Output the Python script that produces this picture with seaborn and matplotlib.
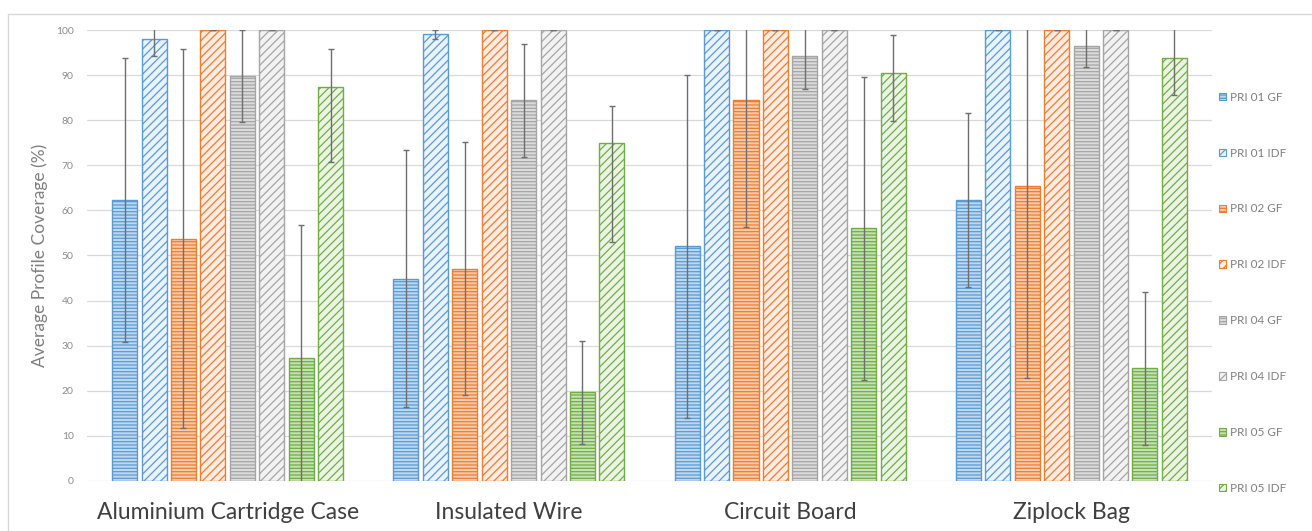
import numpy as np
import pandas as pd
import matplotlib
matplotlib.use('Agg')
import matplotlib.pyplot as plt
import seaborn as sns
from matplotlib.patches import Patch
from matplotlib.lines import Line2D

# 数据
categories = ['Aluminium Cartridge Case', 'Insulated Wire', 'Circuit Board', 'Ziplock Bag']
series = ['PRI 01 GF', 'PRI 01 IDF', 'PRI 02 GF', 'PRI 02 IDF',
          'PRI 04 GF', 'PRI 04 IDF', 'PRI 05 GF', 'PRI 05 IDF']

pri01_gf = [62.3, 44.8, 52.0, 62.4]
pri01_idf = [98.0, 99.1, 100.0, 100.0]
pri02_gf = [53.7, 47.1, 84.4, 65.3]
pri02_idf = [100.0, 100.0, 100.0, 100.0]
pri04_gf = [89.8, 84.4, 94.3, 96.4]
pri04_idf = [100.0, 100.0, 100.0, 100.0]
pri05_gf = [27.2, 19.7, 56.0, 25.0]
pri05_idf = [87.3, 74.9, 90.5, 93.9]

# 误差（下 / 上）
err01_gf = [31.4, 28.5, 38.0, 19.3]
err01_idf = [3.7, 1.0, 0.0, 0.0]
err02_gf = [42.0, 28.0, 28.0, 42.5]
err02_idf = [0.0, 0.0, 0.0, 0.0]
err04_gf = [10.2, 12.5, 7.4, 4.7]
err04_idf = [0.0, 0.0, 0.0, 0.0]
err05_gf = [29.5, 11.4, 33.6, 17.0]
err05_idf_lo = [16.6, 21.8, 10.7, 8.4]
err05_idf_hi = [8.4, 8.3, 8.5, 8.4]

values = [pri01_gf, pri01_idf, pri02_gf, pri02_idf, pri04_gf, pri04_idf, pri05_gf, pri05_idf]
err_lo = [err01_gf, err01_idf, err02_gf, err02_idf, err04_gf, err04_idf, err05_gf, err05_idf_lo]
err_hi = [err01_gf, err01_idf, err02_gf, err02_idf, err04_gf, err04_idf, err05_gf, err05_idf_hi]

rows = []
for s, vals in zip(series, values):
    for c, v in zip(categories, vals):
        rows.append({'category': c, 'series': s, 'value': v})
df = pd.DataFrame(rows)

# 颜色
edge_cols = ['#5B9BD5', '#5B9BD5', '#ED7D31', '#ED7D31', '#A5A5A5', '#A5A5A5', '#70AD47', '#70AD47']
fill_cols = ['#BDD7EE', '#EAF2FA', '#F8CBAD', '#FCEBE0', '#DBDBDB', '#F2F2F2', '#C5E0B4', '#EBF4E4']
hatches = ['-----', '////', '-----', '////', '-----', '////', '-----', '////']

sns.set_style('white')
plt.rcParams['font.family'] = ['Lato', 'DejaVu Sans']
plt.rcParams['hatch.linewidth'] = 0.9

fig = plt.figure(figsize=(13.12, 5.31), dpi=100)
ax = fig.add_axes([0.0663, 0.0942, 0.9238 - 0.0663, 0.9435 - 0.0942])

sns.barplot(data=df, x='category', y='value', hue='series', hue_order=series,
            order=categories, palette=fill_cols, width=0.837, gap=0.15,
            errorbar=None, legend=False, ax=ax)

bar_conts = list(ax.containers)
for i, cont in enumerate(bar_conts):
    xs = []
    for p in cont.patches:
        p.set_facecolor(fill_cols[i])
        p.set_edgecolor(edge_cols[i])
        p.set_hatch(hatches[i])
        p.set_linewidth(1.0)
        xs.append(p.get_x() + p.get_width() / 2)
    ax.errorbar(xs, values[i], yerr=[err_lo[i], err_hi[i]], fmt='none',
                ecolor='#6E6E6E', elinewidth=1.0, capsize=2.5, capthick=1.0, zorder=5)

ax.set_ylim(0, 100)
ax.set_xlim(-0.5, 3.5)
ax.set_yticks(np.arange(0, 101, 10))
ax.yaxis.grid(True, color='#D9D9D9', linewidth=0.9)
ax.set_axisbelow(True)
for sp in ax.spines.values():
    sp.set_visible(False)
ax.tick_params(axis='y', length=0, labelsize=7.5, labelcolor='#8C8C8C', pad=9.5)
ax.tick_params(axis='x', length=0, labelsize=16.5, labelcolor='#404040', pad=15)
ax.set_xlabel('')
ax.set_ylabel('Average Profile Coverage (%)', fontsize=12.5, color='#7F7F7F', labelpad=6)

# 图例
handles = [Patch(facecolor=fill_cols[i], edgecolor=edge_cols[i], hatch=hatches[i], linewidth=0.8)
           for i in range(len(series))]
fig.legend(handles, series, loc='upper left', bbox_to_anchor=(0.921, 0.8472),
           frameon=False, fontsize=8.5, labelcolor='#7F7F7F',
           handlelength=0.61, handleheight=0.61, handletextpad=0.35, labelspacing=3.8)

# 图表外框
fig.add_artist(Line2D([8 / 1312, 1.0], [1 - 14 / 531, 1 - 14 / 531], transform=fig.transFigure,
                      color='#D9D9D9', linewidth=1.0))
fig.add_artist(Line2D([8 / 1312, 8 / 1312], [0.0, 1 - 14 / 531], transform=fig.transFigure,
                      color='#D9D9D9', linewidth=1.0))

fig.savefig('out.png', dpi=100)
